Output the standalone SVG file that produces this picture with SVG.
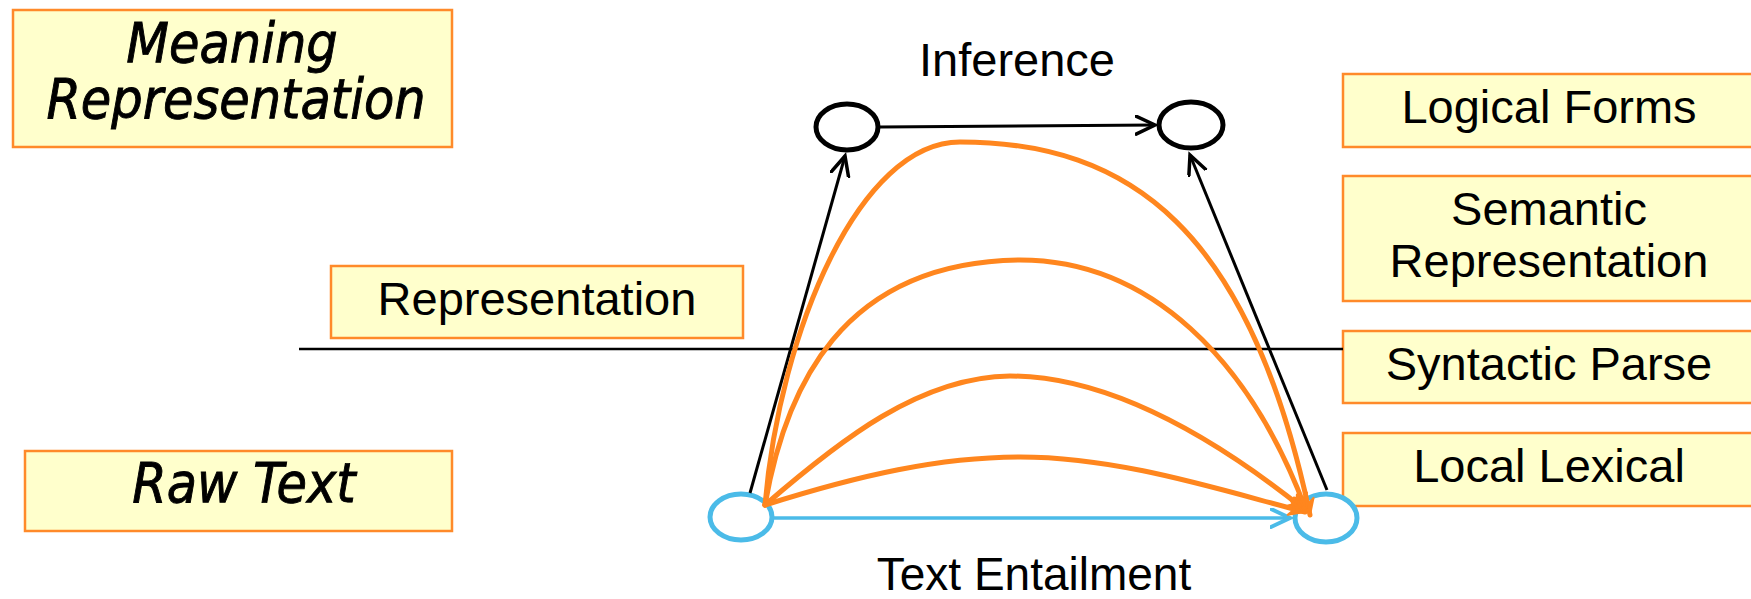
<svg xmlns="http://www.w3.org/2000/svg" width="1751" height="599" viewBox="0 0 1751 599">
<style>
.box{fill:#FFFFCC;stroke:#FF8A2A;stroke-width:2.5}
.lbl{font-family:"Liberation Sans",Arial,sans-serif;font-size:47px;fill:#000;text-anchor:middle}
.ital{font-family:"DejaVu Sans Condensed","DejaVu Sans",Verdana,sans-serif;font-stretch:condensed;font-style:italic;font-size:55px;fill:#000;stroke:#000;stroke-width:0.9;text-anchor:middle}
.blk{fill:none;stroke:#000;stroke-width:3}
.org{fill:none;stroke:#FF861E;stroke-width:5;stroke-linecap:round}
.blu{fill:none;stroke:#4BBBE8;stroke-width:3.5}
</style>
<defs>
<marker id="ab" markerUnits="userSpaceOnUse" markerWidth="30" markerHeight="30" refX="20" refY="10" orient="auto"><path d="M1,1 L20,10 L1,19" fill="none" stroke="#000" stroke-width="3.5" stroke-linecap="round"/></marker>
<marker id="abl" markerUnits="userSpaceOnUse" markerWidth="30" markerHeight="30" refX="20" refY="10" orient="auto"><path d="M1,1 L20,10 L1,19" fill="none" stroke="#4BBBE8" stroke-width="4" stroke-linecap="round"/></marker>
<marker id="ao" markerUnits="userSpaceOnUse" markerWidth="30" markerHeight="30" refX="18" refY="9" orient="auto"><path d="M2,2 L18,9 L2,16 L7,9 Z" fill="#FF861E" stroke="#FF861E" stroke-width="2" stroke-linejoin="round"/></marker>
</defs>

<g id="meaning-representation">
<rect class="box" x="13" y="10" width="439" height="137"/>
<text class="ital" x="232" y="62">Meaning</text>
<text class="ital" x="236" y="118">Representation</text>
</g>
<g id="raw-text">
<rect class="box" x="25" y="451" width="427" height="80"/>
<text class="ital" x="244" y="502">Raw Text</text>
</g>
<g id="representation">
<rect class="box" x="331" y="266" width="412" height="72"/>
<text class="lbl" x="537" y="315">Representation</text>
</g>
<g id="logical-forms">
<rect class="box" x="1343" y="74" width="430" height="73"/>
<text class="lbl" x="1549" y="123">Logical Forms</text>
</g>
<g id="semantic-representation">
<rect class="box" x="1343" y="176" width="430" height="125"/>
<text class="lbl" x="1549" y="225">Semantic</text>
<text class="lbl" x="1549" y="277">Representation</text>
</g>
<g id="syntactic-parse">
<rect class="box" x="1343" y="331" width="430" height="72"/>
<text class="lbl" x="1549" y="380">Syntactic Parse</text>
</g>
<g id="local-lexical">
<rect class="box" x="1343" y="433" width="430" height="73"/>
<text class="lbl" x="1549" y="482">Local Lexical</text>
</g>

<g id="inference-label"><text class="lbl" x="1017" y="76">Inference</text></g>
<g id="entailment-label"><text class="lbl" x="1034" y="590" style="font-size:46px">Text Entailment</text></g>

<g id="node-top-left"><ellipse cx="847" cy="127" rx="31" ry="23" fill="#fff" stroke="#000" stroke-width="5"/></g>
<g id="node-top-right"><ellipse cx="1191" cy="125" rx="32" ry="23" fill="#fff" stroke="#000" stroke-width="5"/></g>
<g id="node-bottom-left"><ellipse cx="741" cy="517" rx="31" ry="23" fill="#fff" stroke="#4BBBE8" stroke-width="5"/></g>
<g id="node-bottom-right"><ellipse cx="1326" cy="518" rx="31" ry="24" fill="#fff" stroke="#4BBBE8" stroke-width="5"/></g>

<g id="connectors">
<line x1="299" y1="349" x2="1343" y2="349" stroke="#000" stroke-width="2.5"/>
<line class="blk" x1="880" y1="127" x2="1155" y2="125" marker-end="url(#ab)"/>
<line class="blk" x1="750" y1="493" x2="845" y2="156" marker-end="url(#ab)"/>
<line class="blk" x1="1327" y1="490" x2="1190" y2="155" marker-end="url(#ab)"/>
<line class="blu" x1="773" y1="518" x2="1290" y2="518" marker-end="url(#abl)"/>
<path class="org" d="M765,505 C780,330 860,142 960,142 C1130,142 1250,230 1310,515" marker-end="url(#ao)"/>
<path class="org" d="M765,505 C785,390 840,262 1020,260 C1150,260 1250,360 1306,510" marker-end="url(#ao)"/>
<path class="org" d="M765,505 C840,440 920,377 1010,376 C1120,376 1230,450 1305,510" marker-end="url(#ao)"/>
<path class="org" d="M765,505 C860,475 940,457 1020,457 C1120,457 1220,490 1305,512" marker-end="url(#ao)"/>
</g>
</svg>
